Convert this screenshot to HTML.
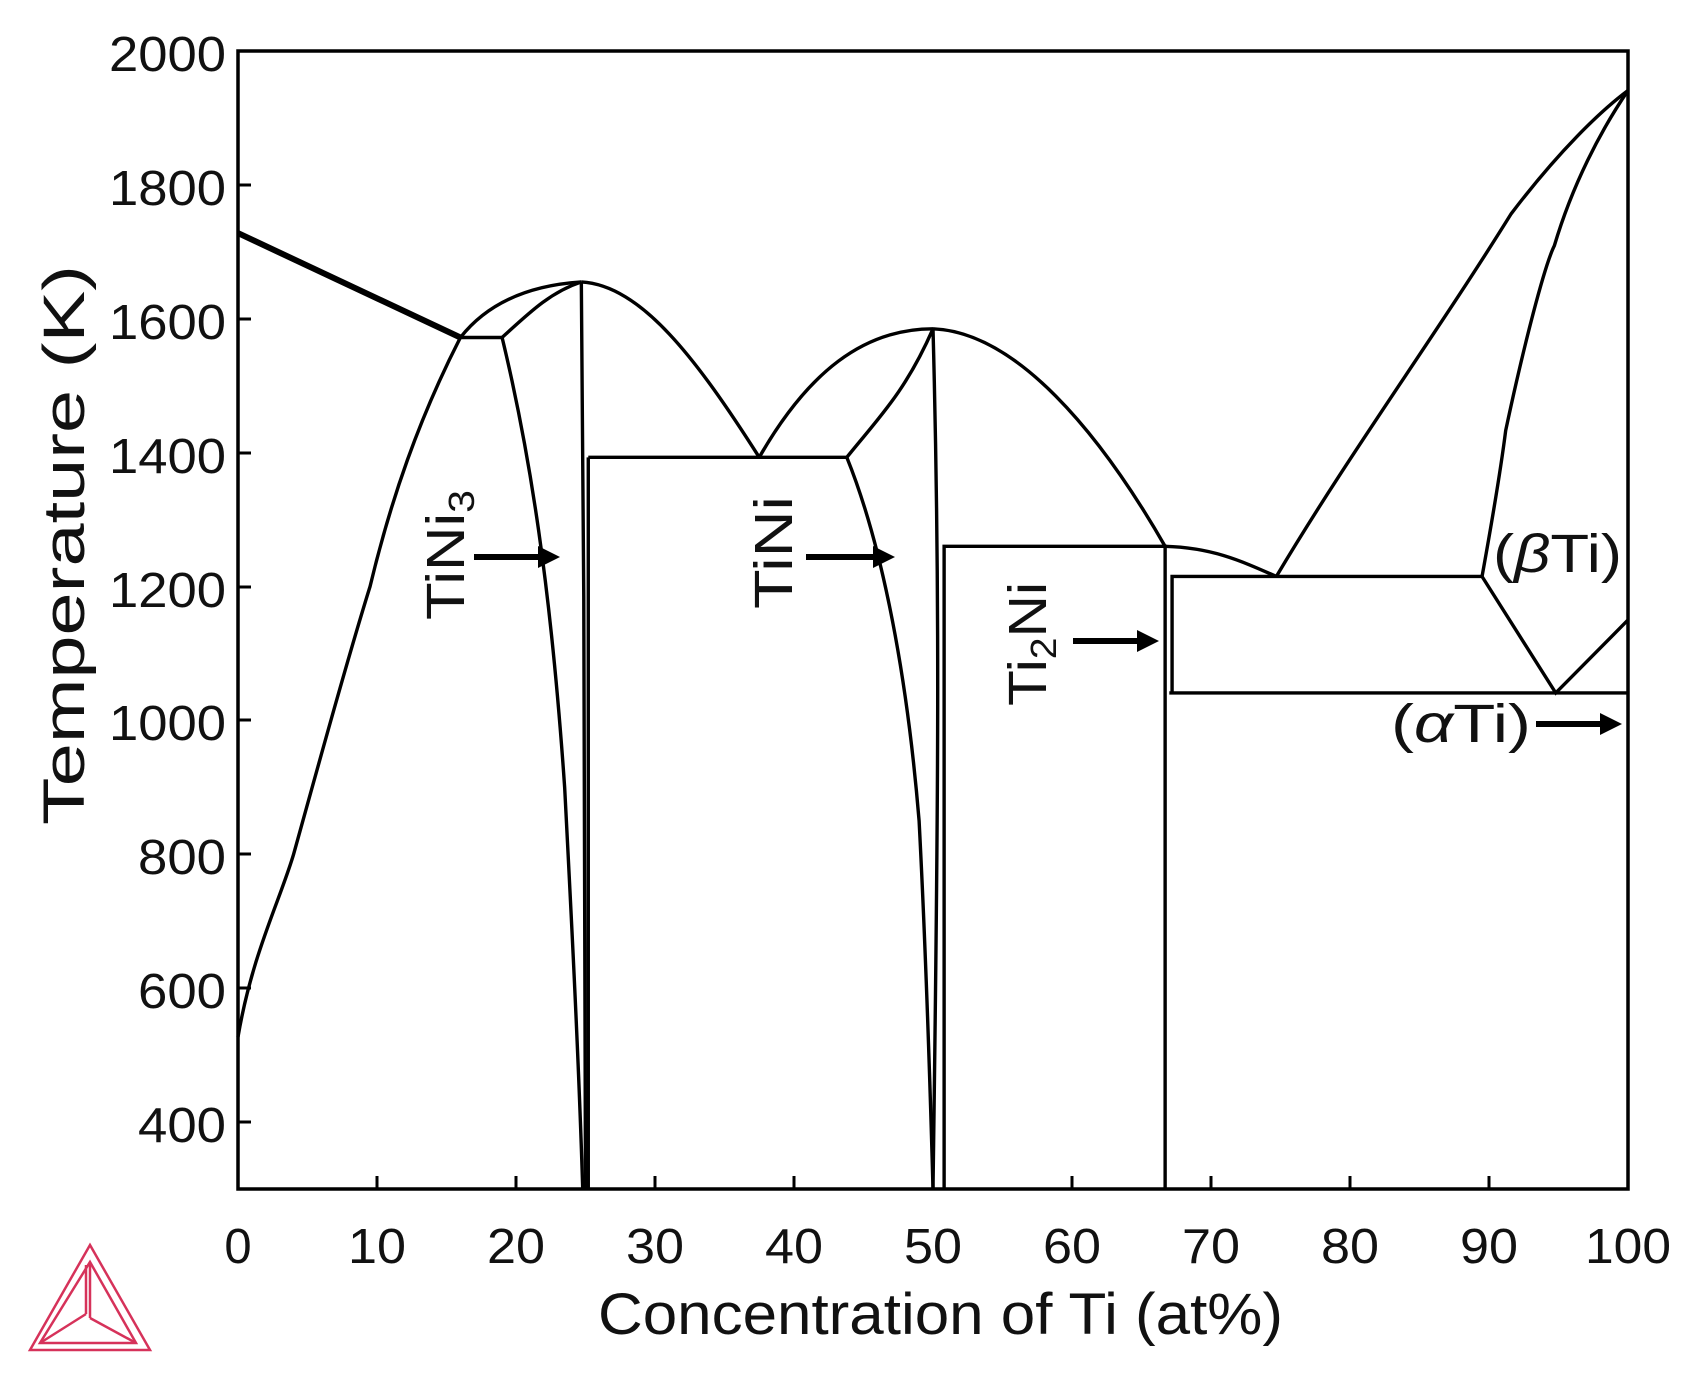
<!DOCTYPE html>
<html><head><meta charset="utf-8"><style>
html,body{margin:0;padding:0;background:#fff}
svg{display:block}
text{font-family:"Liberation Sans",sans-serif;fill:#111}
</style></head><body>
<svg width="1691" height="1384" viewBox="0 0 1691 1384" xmlns="http://www.w3.org/2000/svg">
<rect width="1691" height="1384" fill="#fff"/>
<g transform="matrix(13.9 0 0 -0.6694 238 1389.8)" fill="none" stroke="#000" stroke-width="3.4">
<path vector-effect="non-scaling-stroke" stroke-width="6" d="M0,1728 L16,1572"/>
<path vector-effect="non-scaling-stroke" d="M16,1572 L19,1572"/>
<path vector-effect="non-scaling-stroke" d="M16,1572 C18,1625 21,1650 24.7,1655"/>
<path vector-effect="non-scaling-stroke" d="M19,1572 C21,1610 22.5,1640 24.7,1655"/>
<path vector-effect="non-scaling-stroke" d="M0,527 C1,650 3,730 4,800 C6,950 8,1100 9.5,1200 C11,1330 13,1450 16,1572"/>
<path vector-effect="non-scaling-stroke" d="M19,1572 C21,1400 22.5,1200 23.5,900 C24,700 24.5,500 24.8,300"/>
<path vector-effect="non-scaling-stroke" d="M24.7,1655 C24.9,1200 25,800 25,300"/>
<path vector-effect="non-scaling-stroke" d="M25.2,1393 L25.2,300 M25.2,1393 L43.8,1393"/>
<path vector-effect="non-scaling-stroke" d="M24.7,1655 C29,1650 33,1540 37.5,1393"/>
<path vector-effect="non-scaling-stroke" d="M37.5,1393 C41,1520 45,1585 50,1585"/>
<path vector-effect="non-scaling-stroke" d="M43.8,1393 C46,1450 48,1490 50,1585"/>
<path vector-effect="non-scaling-stroke" d="M43.8,1393 C46,1280 48,1100 49,850 C49.5,650 49.8,450 50,300"/>
<path vector-effect="non-scaling-stroke" d="M50,1585 C50.5,1200 50.4,900 50,300"/>
<path vector-effect="non-scaling-stroke" d="M50,1585 C56,1580 62,1430 66.7,1260"/>
<path vector-effect="non-scaling-stroke" d="M50.8,300 L50.8,1260 L66.7,1260 L66.7,300"/>
<path vector-effect="non-scaling-stroke" d="M66.7,1260 C70,1258 72,1240 74.7,1215"/>
<path vector-effect="non-scaling-stroke" d="M67.2,1043 L67.2,1215 L89.5,1215"/>
<path vector-effect="non-scaling-stroke" d="M67,1041 L100,1041"/>
<path vector-effect="non-scaling-stroke" d="M74.7,1215 C80,1400 86,1570 91.6,1757 C95,1850 98,1910 100,1941"/>
<path vector-effect="non-scaling-stroke" d="M89.5,1215 C90.5,1330 91,1400 91.2,1433 C92.5,1560 94,1680 94.7,1709 C96,1800 98,1880 100,1941"/>
<path vector-effect="non-scaling-stroke" d="M89.5,1215 L94.8,1041 L100,1150"/>
</g>
<rect x="238" y="51" width="1390" height="1138" fill="none" stroke="#000" stroke-width="3.5"/>
<g stroke="#000" stroke-width="3">
<line x1="377" y1="1189" x2="377" y2="1176"/><line x1="516" y1="1189" x2="516" y2="1176"/><line x1="655" y1="1189" x2="655" y2="1176"/><line x1="794" y1="1189" x2="794" y2="1176"/><line x1="933" y1="1189" x2="933" y2="1176"/><line x1="1072" y1="1189" x2="1072" y2="1176"/><line x1="1211" y1="1189" x2="1211" y2="1176"/><line x1="1350" y1="1189" x2="1350" y2="1176"/><line x1="1489" y1="1189" x2="1489" y2="1176"/>
<line x1="238" y1="1122" x2="251" y2="1122"/><line x1="238" y1="988" x2="251" y2="988"/><line x1="238" y1="854" x2="251" y2="854"/><line x1="238" y1="720" x2="251" y2="720"/><line x1="238" y1="587" x2="251" y2="587"/><line x1="238" y1="453" x2="251" y2="453"/><line x1="238" y1="319" x2="251" y2="319"/><line x1="238" y1="185" x2="251" y2="185"/>
</g>
<g font-size="49" text-anchor="end">
<text x="226" y="71" textLength="117" lengthAdjust="spacingAndGlyphs">2000</text>
<text x="226" y="205" textLength="117" lengthAdjust="spacingAndGlyphs">1800</text>
<text x="226" y="339" textLength="117" lengthAdjust="spacingAndGlyphs">1600</text>
<text x="226" y="473" textLength="117" lengthAdjust="spacingAndGlyphs">1400</text>
<text x="226" y="607" textLength="117" lengthAdjust="spacingAndGlyphs">1200</text>
<text x="226" y="740" textLength="117" lengthAdjust="spacingAndGlyphs">1000</text>
<text x="226" y="874" textLength="88" lengthAdjust="spacingAndGlyphs">800</text>
<text x="226" y="1008" textLength="88" lengthAdjust="spacingAndGlyphs">600</text>
<text x="226" y="1142" textLength="88" lengthAdjust="spacingAndGlyphs">400</text>
</g>
<g font-size="49" text-anchor="middle">
<text x="238" y="1263">0</text>
<text x="377" y="1263" textLength="58" lengthAdjust="spacingAndGlyphs">10</text>
<text x="516" y="1263" textLength="58" lengthAdjust="spacingAndGlyphs">20</text>
<text x="655" y="1263" textLength="58" lengthAdjust="spacingAndGlyphs">30</text>
<text x="794" y="1263" textLength="58" lengthAdjust="spacingAndGlyphs">40</text>
<text x="933" y="1263" textLength="58" lengthAdjust="spacingAndGlyphs">50</text>
<text x="1072" y="1263" textLength="58" lengthAdjust="spacingAndGlyphs">60</text>
<text x="1211" y="1263" textLength="58" lengthAdjust="spacingAndGlyphs">70</text>
<text x="1350" y="1263" textLength="58" lengthAdjust="spacingAndGlyphs">80</text>
<text x="1489" y="1263" textLength="58" lengthAdjust="spacingAndGlyphs">90</text>
<text x="1628" y="1263" textLength="86" lengthAdjust="spacingAndGlyphs">100</text>
</g>
<text x="598" y="1334" font-size="58" textLength="685" lengthAdjust="spacingAndGlyphs">Concentration of Ti (at%)</text>
<text transform="translate(84,825) rotate(-90)" font-size="58" textLength="560" lengthAdjust="spacingAndGlyphs">Temperature (K)</text>
<g font-size="54">
<text transform="translate(464,620) rotate(-90)" textLength="130" lengthAdjust="spacingAndGlyphs">TiNi<tspan font-size="36" dy="10">3</tspan></text>
<text transform="translate(792,609) rotate(-90)" textLength="113" lengthAdjust="spacingAndGlyphs">TiNi</text>
<text transform="translate(1046,706) rotate(-90)" textLength="124" lengthAdjust="spacingAndGlyphs">Ti<tspan font-size="36" dy="10">2</tspan><tspan dy="-10">Ni</tspan></text>
<text x="1493" y="572" textLength="129" lengthAdjust="spacingAndGlyphs">(<tspan font-style="italic">β</tspan>Ti)</text>
<text x="1391" y="742" textLength="140" lengthAdjust="spacingAndGlyphs">(<tspan font-style="italic">α</tspan>Ti)</text>
</g>
<g stroke="#000" stroke-width="6" fill="#000">
<line x1="474" y1="557" x2="540" y2="557"/><polygon stroke="none" points="538,546 560,557 538,568"/>
<line x1="806" y1="557" x2="875" y2="557"/><polygon stroke="none" points="873,546 895,557 873,568"/>
<line x1="1073" y1="641" x2="1139" y2="641"/><polygon stroke="none" points="1137,630 1159,641 1137,652"/>
<line x1="1536" y1="724" x2="1602" y2="724"/><polygon stroke="none" points="1600,713 1622,724 1600,735"/>
</g>
<g fill="none" stroke="#d6325a" stroke-width="2.5">
<polygon points="90,1245 150,1350 30,1350"/>
<polygon points="90,1262 136,1343 40,1343"/>
<line x1="90" y1="1262" x2="90" y2="1318"/><line x1="86" y1="1265" x2="86" y2="1314"/>
<line x1="90" y1="1318" x2="136" y2="1343"/><line x1="86" y1="1314" x2="40" y2="1343"/>
</g>
</svg>
</body></html>
